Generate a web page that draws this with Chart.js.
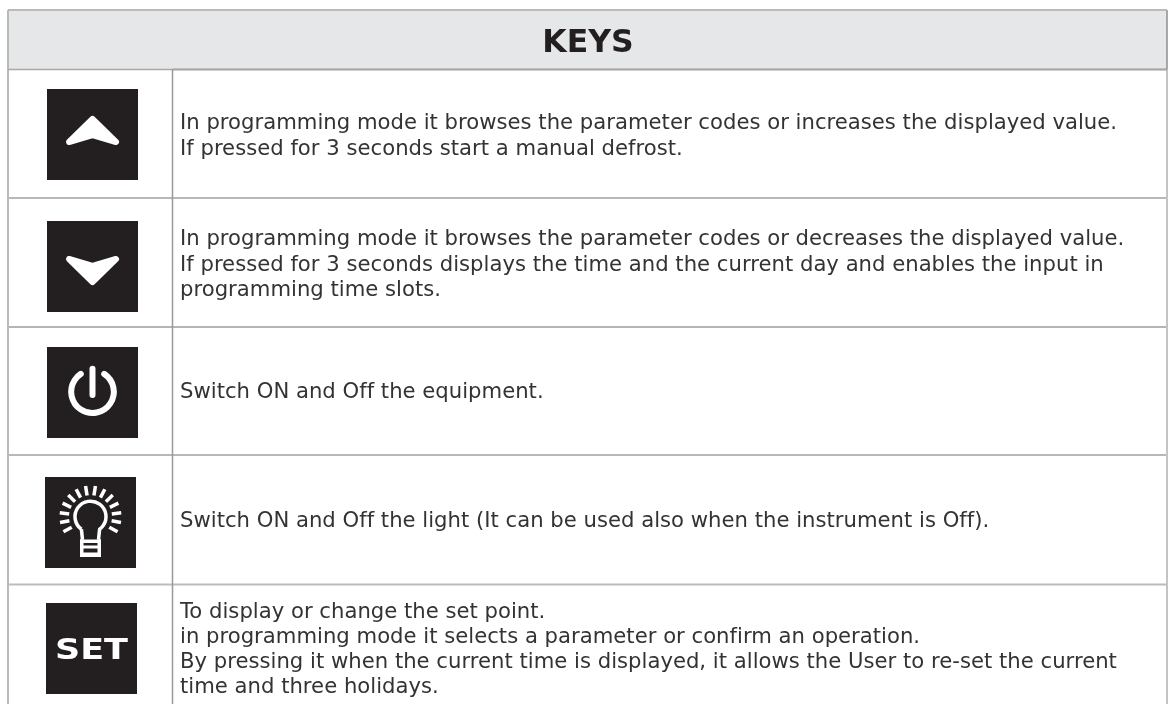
<!DOCTYPE html>
<html>
<head>
<meta charset="utf-8">
<style>
html, body { margin: 0; padding: 0; background: #fff; }
canvas { display: block; }
</style>
<script src="https://cdn.jsdelivr.net/npm/chart.js@4"></script>
</head>
<body>
<canvas id="keysChart" width="1172" height="704"></canvas>
<script>
const title = 'KEYS';
const keyNames = ['up', 'down', 'power', 'light', 'set'];
const keyTexts = [
  ['In programming mode it browses the parameter codes or increases the displayed value.',
   'If pressed for 3 seconds start a manual defrost.'],
  ['In programming mode it browses the parameter codes or decreases the displayed value.',
   'If pressed for 3 seconds displays the time and the current day and enables the input in',
   'programming time slots.'],
  ['Switch ON and Off the equipment.'],
  ['Switch ON and Off the light (It can be used also when the instrument is Off).'],
  ['To display or change the set point.',
   'in programming mode it selects a parameter or confirm an operation.',
   'By pressing it when the current time is displayed, it allows the User to re-set the current',
   'time and three holidays.']
];

// table geometry, in page pixels (the hidden scales run 0..1172 and 0..704)
const tableLeft = 8, tableRight = 1167, tableTop = 10, headerBottom = 69.5, tableBottom = 704, columnX = 172.5;
const rowLines = [198, 327, 455, 584.5];
const rowLineColors = ['#a0a0a0', '#b4b4b4', '#a0a0a0', '#bcbcbc'];
const rowLineWidths = [1.5, 2, 1.5, 2];
const iconCentres = [[92.5, 134.5], [92.5, 266.5], [92.5, 392.5], [90.5, 522.5], [91.5, 648.5]];
const textBaselines = [[129, 155], [245, 271, 296], [398], [527], [618, 643, 668, 693]];

function segment(x1, y1, x2, y2, color, width) {
  return {
    type: 'line',
    data: [{ x: x1, y: y1 }, { x: x2, y: y2 }],
    borderColor: color,
    borderWidth: width,
    pointRadius: 0,
    fill: false
  };
}

const gridLines = [
  segment(tableLeft, headerBottom, tableRight, headerBottom, '#a8a8a8', 1.5),
  segment(columnX, headerBottom, tableRight, headerBottom, '#66686a', 1.5),
  segment(tableLeft, tableTop, tableRight, tableTop, '#b9baba', 2),
  segment(tableLeft, tableTop, tableLeft, tableBottom, '#b9baba', 2),
  segment(tableRight, tableTop, tableRight, headerBottom, '#8f8f8f', 1.5),
  segment(tableRight, headerBottom, tableRight, tableBottom, '#c4c4c4', 2),
  segment(columnX, headerBottom, columnX, tableBottom, '#999999', 1.5)
].concat(rowLines.map((y, i) => segment(tableLeft, y, tableRight, y, rowLineColors[i], rowLineWidths[i])));

const iconSquares = {
  type: 'scatter',
  data: iconCentres.map(c => ({ x: c[0], y: c[1] })),
  pointStyle: 'rect',
  pointRadius: 91 / Math.SQRT2,
  pointHoverRadius: 91 / Math.SQRT2,
  backgroundColor: '#231f20',
  borderWidth: 0,
  clip: false
};

function chevron(ctx, dir) {
  ctx.lineWidth = 6;
  ctx.beginPath();
  ctx.moveTo(0, -15.5 * dir);
  ctx.lineTo(23.5, 7.5 * dir);
  ctx.lineTo(0, 0.5 * dir);
  ctx.lineTo(-23.5, 7.5 * dir);
  ctx.closePath();
  ctx.fill();
  ctx.stroke();
}

function powerIcon(ctx) {
  ctx.lineWidth = 6;
  ctx.lineCap = 'round';
  ctx.beginPath();
  ctx.arc(0, -0.8, 21.3, -Math.PI / 2 + 0.58, -Math.PI / 2 - 0.58);
  ctx.stroke();
  ctx.beginPath();
  ctx.moveTo(0, -23.8);
  ctx.lineTo(0, 2.5);
  ctx.stroke();
}

function lightIcon(ctx) {
  ctx.lineWidth = 3.5;
  ctx.lineCap = 'butt';
  ctx.save();
  ctx.translate(0, -5.8);
  for (let i = 0; i < 14; i++) {
    const a = (i - 6.5) * 0.32 - Math.PI / 2;
    ctx.beginPath();
    ctx.moveTo(Math.cos(a) * 21.5, Math.sin(a) * 21.5);
    ctx.lineTo(Math.cos(a) * 31, Math.sin(a) * 31);
    ctx.stroke();
  }
  ctx.beginPath();
  ctx.arc(0, 0, 15.5, Math.PI * 0.7, Math.PI * 0.3);
  ctx.lineTo(8, 23);
  ctx.moveTo(-8, 23);
  ctx.lineTo(Math.cos(Math.PI * 0.7) * 15.5, Math.sin(Math.PI * 0.7) * 15.5);
  ctx.stroke();
  ctx.restore();
  ctx.fillRect(-10.5, 17, 21, 3.5);
  ctx.fillRect(-10.5, 17, 3.5, 17.5);
  ctx.fillRect(7, 17, 3.5, 17.5);
  ctx.fillRect(-10.5, 23, 21, 3);
  ctx.fillRect(-10.5, 30, 21, 4.5);
}

function setIcon(ctx) {
  ctx.save();
  ctx.scale(1.25, 1);
  ctx.font = 'bold 28px "DejaVu Sans"';
  ctx.textAlign = 'center';
  ctx.textBaseline = 'alphabetic';
  ctx.fillText('SET', 0, 10.5);
  ctx.restore();
}

const iconDrawers = {
  up: ctx => chevron(ctx, 1),
  down: ctx => chevron(ctx, -1),
  power: powerIcon,
  light: lightIcon,
  set: setIcon
};

const tablePlugin = {
  id: 'tablePlugin',
  beforeDatasetsDraw(chart) {
    const { ctx, scales: { x, y } } = chart;
    ctx.save();
    ctx.fillStyle = '#e6e7e8';
    ctx.fillRect(x.getPixelForValue(tableLeft), y.getPixelForValue(tableTop),
      x.getPixelForValue(tableRight) - x.getPixelForValue(tableLeft),
      y.getPixelForValue(headerBottom) - y.getPixelForValue(tableTop));
    ctx.restore();
  },
  afterDatasetsDraw(chart) {
    const { ctx, scales: { x, y } } = chart;
    ctx.save();
    ctx.fillStyle = '#231f20';
    ctx.textBaseline = 'alphabetic';
    ctx.textAlign = 'center';
    ctx.font = 'bold 31.5px "DejaVu Sans"';
    ctx.fillText(title, x.getPixelForValue(588), y.getPixelForValue(52));

    ctx.textAlign = 'left';
    ctx.fillStyle = '#333333';
    ctx.font = '21.17px "DejaVu Sans"';
    ctx.letterSpacing = '0.01px'; // no fi/ff ligatures, the original has none
    keyTexts.forEach((lines, r) => {
      lines.forEach((line, i) => {
        ctx.fillText(line, x.getPixelForValue(180), y.getPixelForValue(textBaselines[r][i]));
      });
    });
    ctx.letterSpacing = '0px';

    ctx.fillStyle = '#ffffff';
    ctx.strokeStyle = '#ffffff';
    ctx.lineJoin = 'round';
    keyNames.forEach((name, r) => {
      ctx.save();
      ctx.translate(x.getPixelForValue(iconCentres[r][0]), y.getPixelForValue(iconCentres[r][1]));
      iconDrawers[name](ctx);
      ctx.restore();
    });
    ctx.restore();
  }
};

new Chart(document.getElementById('keysChart'), {
  type: 'scatter',
  data: { datasets: gridLines.concat([iconSquares]) },
  options: {
    responsive: false,
    animation: false,
    layout: { padding: 0, autoPadding: false },
    plugins: { legend: { display: false }, tooltip: { enabled: false } },
    scales: {
      x: { type: 'linear', min: 0, max: 1172, display: false },
      y: { type: 'linear', min: 0, max: 704, reverse: true, display: false }
    }
  },
  plugins: [tablePlugin]
});
</script>
</body>
</html>
